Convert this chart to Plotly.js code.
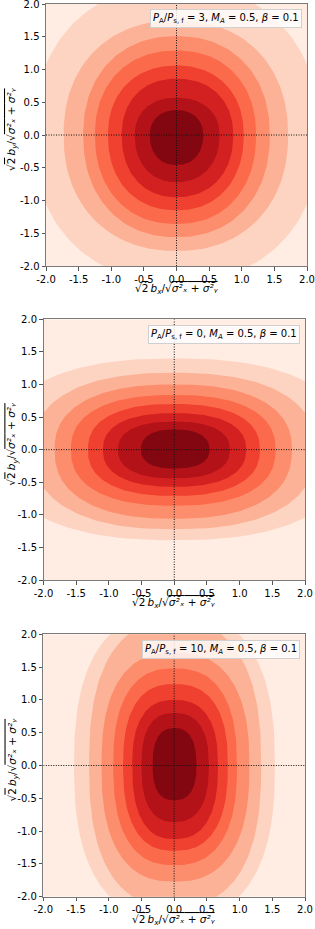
<!DOCTYPE html>
<html>
<head>
<meta charset="utf-8">
<script src="https://cdn.plot.ly/plotly-3.0.1.min.js"></script>
<style>
  html, body { margin: 0; padding: 0; background: #fff; }
  #chart { width: 315px; height: 929px; }
</style>
</head>
<body>
<div id="chart"></div>
<script>
// ---- Data ----
// Band fill colours, from the outermost (background) band to the innermost (peak) band
const bandColors = ['#ffece3', '#fdd4c2', '#fcb297', '#fc8e6d', '#fb6a4a', '#f0402f', '#d32020', '#b21218', '#830711'];

// Panel titles (value of P_A/P_s,f)
const panelRatios = ['3', '0', '10'];
const machAlfven = '0.5';
const plasmaBeta = '0.1';

// Contour boundary extents (outer -> inner), measured along +x, -x, +y, -y from the origin
// Panel 1 : P_A/P_s,f = 3
const p1Right = [2.20, 1.71, 1.43, 1.22, 1.03, 0.87, 0.66, 0.41];
const p1Left  = [2.20, 1.73, 1.43, 1.25, 1.05, 0.84, 0.64, 0.41];
const p1Up    = [2.30, 1.75, 1.51, 1.29, 1.06, 0.86, 0.57, 0.38];
const p1Down  = [2.25, 1.77, 1.56, 1.36, 1.15, 0.95, 0.72, 0.46];
// Panel 2 : P_A/P_s,f = 0
const p2Right = [2.67, 2.16, 1.80, 1.55, 1.31, 1.10, 0.85, 0.54];
const p2Left  = [2.67, 2.16, 1.83, 1.58, 1.32, 1.09, 0.86, 0.51];
const p2Up    = [1.40, 1.18, 1.00, 0.84, 0.70, 0.56, 0.43, 0.31];
const p2Down  = [1.39, 1.22, 1.06, 0.86, 0.71, 0.57, 0.44, 0.29];
// Panel 3 : P_A/P_s,f = 10
const p3Right = [1.54, 1.33, 1.15, 0.96, 0.82, 0.67, 0.53, 0.34];
const p3Left  = [1.53, 1.30, 1.11, 0.93, 0.78, 0.64, 0.50, 0.33];
const p3Up    = [2.35, 2.20, 1.72, 1.48, 1.24, 1.00, 0.80, 0.57];
const p3Down  = [2.35, 2.15, 1.77, 1.52, 1.30, 1.12, 0.86, 0.53];
// Squareness of the contour outlines (superellipse exponent) per panel
const shapeExponent = [2.2, 2.4, 2.5];

// Axis ticks
const tickVals = [-2.0, -1.5, -1.0, -0.5, 0.0, 0.5, 1.0, 1.5, 2.0];
const tickText = ['-2.0', '-1.5', '-1.0', '-0.5', '0.0', '0.5', '1.0', '1.5', '2.0'];

// ---- Build figure ----
const W = 315, H = 929;
const panels = [
  { right: p1Right, left: p1Left, up: p1Up, down: p1Down, ratio: panelRatios[0], n: shapeExponent[0],
    px0: 46, px1: 307, py0: 4, py1: 266, boxRight: 302, boxTop: 9 },
  { right: p2Right, left: p2Left, up: p2Up, down: p2Down, ratio: panelRatios[1], n: shapeExponent[1],
    px0: 43.5, px1: 305, py0: 319.3, py1: 580, boxRight: 299.5, boxTop: 325 },
  { right: p3Right, left: p3Left, up: p3Up, down: p3Down, ratio: panelRatios[2], n: shapeExponent[2],
    px0: 43.3, px1: 305, py0: 634.3, py1: 896.7, boxRight: 299.5, boxTop: 639.5 }
];

function boundary(R, L, U, D, n) {
  const xs = [], ys = [];
  const e = 2 / n;
  for (let k = 0; k <= 360; k += 2) {
    const t = k * Math.PI / 180;
    const c = Math.cos(t), s = Math.sin(t);
    const cx = Math.sign(c) * Math.pow(Math.abs(c), e);
    const sy = Math.sign(s) * Math.pow(Math.abs(s), e);
    xs.push((c >= 0 ? R : L) * cx);
    ys.push((s >= 0 ? U : D) * sy);
  }
  return { xs, ys };
}

const font = 'DejaVu Sans, Liberation Sans, sans-serif';
const traces = [];
const layout = {
  width: W, height: H,
  margin: { l: 0, r: 0, t: 0, b: 0 },
  paper_bgcolor: '#ffffff',
  plot_bgcolor: bandColors[0],
  showlegend: false,
  shapes: [],
  annotations: [],
  font: { family: font, size: 10, color: '#000' }
};

const ol = (s) => '<span style="text-decoration:overline">' + s + '</span>';
const xTitle = '√' + ol('2') + '\u2009<i>b<sub>x</sub></i>/√' + ol('<i>σ²ₓ</i> + <i>σ²ᵧ</i>');
const yTitle = '√' + ol('2') + '\u2009<i>b<sub>y</sub></i>/√' + ol('<i>σ²ₓ</i> + <i>σ²ᵧ</i>');

panels.forEach((p, i) => {
  const sfx = i === 0 ? '' : String(i + 1);
  const xa = 'x' + sfx, ya = 'y' + sfx;
  for (let j = 0; j < p.right.length; j++) {
    const b = boundary(p.right[j], p.left[j], p.up[j], p.down[j], p.n);
    traces.push({
      type: 'scatter', mode: 'lines', x: b.xs, y: b.ys,
      xaxis: xa, yaxis: ya, fill: 'toself', fillcolor: bandColors[j + 1],
      line: { width: 0, color: bandColors[j + 1] }, hoverinfo: 'skip'
    });
  }
  const axisCommon = {
    range: [-2, 2], tickmode: 'array', tickvals: tickVals, ticktext: tickText,
    showgrid: false, zeroline: false, showline: true, mirror: true,
    linecolor: '#7a7a7a', linewidth: 1, ticks: 'outside', ticklen: 3.5,
    tickwidth: 1, tickcolor: '#555', tickfont: { family: font, size: 10, color: '#000' },
    ticklabeloverflow: 'allow', fixedrange: true
  };
  layout['xaxis' + sfx] = Object.assign({}, axisCommon, {
    domain: [p.px0 / W, p.px1 / W], anchor: ya
  });
  layout['yaxis' + sfx] = Object.assign({}, axisCommon, {
    domain: [1 - p.py1 / H, 1 - p.py0 / H], anchor: xa
  });
  // dotted cross-hair lines
  layout.shapes.push({ type: 'line', xref: xa, yref: ya, x0: 0, x1: 0, y0: -2, y1: 2,
    line: { color: '#111', width: 1, dash: '1px,1.5px' } });
  layout.shapes.push({ type: 'line', xref: xa, yref: ya, x0: -2, x1: 2, y0: 0, y1: 0,
    line: { color: '#111', width: 1, dash: '1px,1.5px' } });
  // legend-like label box
  layout.annotations.push({
    xref: 'paper', yref: 'paper', x: p.boxRight / W, y: 1 - p.boxTop / H,
    xanchor: 'right', yanchor: 'top', showarrow: false,
    text: '<i>P</i><sub>A</sub>/<i>P</i><sub>s, f</sub> = ' + p.ratio + ', <i>M<sub>A</sub></i> = ' + machAlfven + ', <i>β</i> = ' + plasmaBeta,
    font: { family: font, size: 10, color: '#000' },
    bgcolor: 'rgba(255,255,255,0.8)', bordercolor: '#d0d0d0', borderwidth: 1, borderpad: 2
  });
  // axis titles
  layout.annotations.push({
    xref: 'paper', yref: 'paper', x: (p.px0 + p.px1) / 2 / W, y: 1 - (p.py1 + 23) / H,
    xanchor: 'center', yanchor: 'middle', showarrow: false, text: xTitle,
    font: { family: font, size: 10.5, color: '#000' }
  });
  layout.annotations.push({
    xref: 'paper', yref: 'paper', x: 12 / W, y: 1 - ((p.py0 + p.py1) / 2 - 6) / H,
    xanchor: 'center', yanchor: 'middle', showarrow: false, text: yTitle, textangle: -90,
    font: { family: font, size: 10.5, color: '#000' }
  });
});

Plotly.newPlot('chart', traces, layout, { staticPlot: true, displayModeBar: false });
</script>
</body>
</html>
